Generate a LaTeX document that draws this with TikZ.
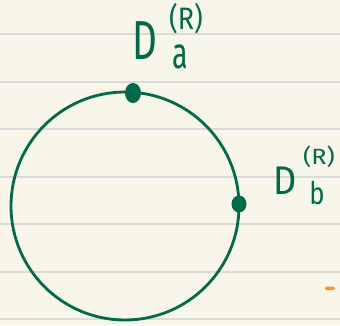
\documentclass[tikz,border=0pt]{standalone}
\usepackage{fontspec}
\setmainfont{Fira Sans}
\usetikzlibrary{shapes.geometric}
\definecolor{paper}{HTML}{F8F5E9}
\definecolor{rule}{HTML}{DADADA}
\definecolor{ink}{HTML}{00694A}
\definecolor{hl}{HTML}{F39A1E}
\newcommand{\hwtext}[3]{\scalebox{#1}[1]{\fontsize{#2}{#2}\selectfont #3}}
\tikzset{
  ruleline/.style={draw=rule, line width=1.5pt},
  lbl/.style={text=ink, inner sep=0pt, anchor=center},
  dot/.style={ellipse, fill=ink, inner sep=0pt},
}
\begin{document}
\begin{tikzpicture}[x=1pt,y=-1pt]
\fill[paper] (0,0) rectangle (340,325);
\useasboundingbox (0,0) rectangle (340,325);
\foreach \yy in {34,82,129,177,224,272,319} \draw[ruleline] (0,\yy) -- (340,\yy);
\node[circle, draw=ink, line width=2.8pt, minimum size=228pt, inner sep=0pt] (c) at (125,206) {};
\node[dot, minimum width=16pt, minimum height=20pt] (pa) at (133,93) {};
\node[dot, minimum width=15pt, minimum height=17pt] (pb) at (239,204) {};
\node[lbl] (Da) at (145,41) {\hwtext{0.7}{55pt}{D}};
\node[lbl] (Ra) at (186,19) {\hwtext{0.87}{31pt}{(R)}};
\node[lbl] (sa) at (180,57) {\hwtext{0.65}{44pt}{a}};
\node[lbl] (Db) at (285,181) {\hwtext{0.9}{40pt}{D}};
\node[lbl] (Rb) at (319,157) {\hwtext{1.15}{22pt}{(R)}};
\node[lbl] (sb) at (317,193) {\hwtext{0.83}{31pt}{b}};
\fill[hl, rounded corners=1.5pt] (325,286.5) rectangle (335,290);
\end{tikzpicture}
\end{document}
